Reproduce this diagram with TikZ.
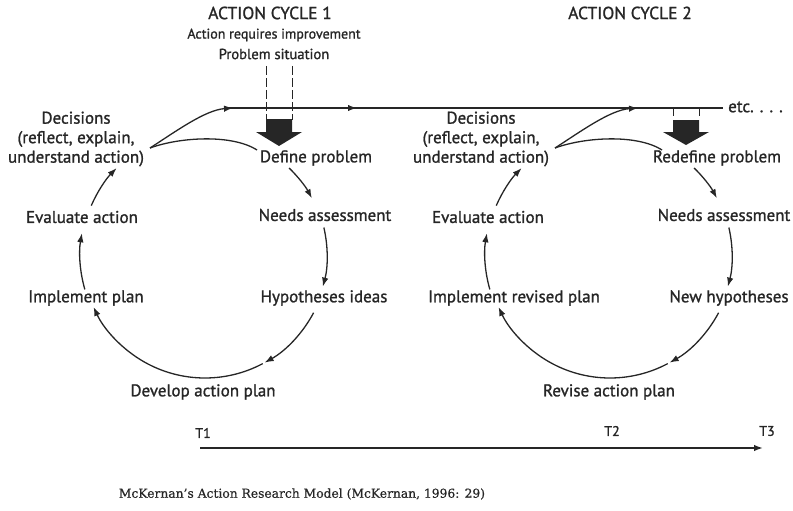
\documentclass[tikz,border=0pt]{standalone}
\usepackage{fontspec}
\setmainfont{PT Sans}
\newfontfamily\lblfont{PT Sans}[FakeBold=1.2]
\newfontfamily\capfont{DejaVu Serif}[FakeBold=0.6]
\usetikzlibrary{arrows.meta,calc}
\definecolor{ink}{HTML}{262626}
\begin{document}
\begin{tikzpicture}[x=1pt,y=1pt,
  lbl/.style={inner sep=0pt,text=ink,font=\lblfont\fontsize{17}{19.5}\selectfont},
  hdr/.style={inner sep=0pt,text=ink,font=\lblfont\fontsize{14}{17}\selectfont},
  ttl/.style={inner sep=0pt,text=ink,font=\lblfont\fontsize{17.5}{19}\selectfont},
  cyc/.style={line width=1.3pt,draw=ink,-{Latex[length=9pt,width=6.5pt]}},
  plain/.style={line width=1.3pt,draw=ink},
  mainline/.style={line width=1.8pt,draw=ink},
  bigarrow/.style={fill=ink,draw=none},
  dashline/.style={line width=1pt,draw=ink,dash pattern=on 9pt off 3pt},
  tick/.style={line width=1pt,draw=ink}]
\useasboundingbox (0,0) rectangle (793,-511);
% header texts
\node[ttl] (cyc1) at (270,-13) {ACTION CYCLE 1};
\node[hdr] (req) at (274,-35) {Action requires improvement};
\node[hdr,font=\lblfont\fontsize{14.6}{17}\selectfont] (sit) at (274,-54) {Problem situation};
\node[ttl] (cyc2) at (630,-13) {ACTION CYCLE 2};
% cycle 1 nodes
\node[lbl,align=center] (dec1) at (76,-139) {Decisions\\(reflect, explain,\\understand action)};
\node[lbl] (def1) at (316,-158) {Define problem};
\node[lbl] (needs1) at (325,-215) {Needs assessment};
\node[lbl] (hyp1) at (324,-298) {Hypotheses ideas};
\node[lbl] (dev1) at (203,-392) {Develop action plan};
\node[lbl] (impl1) at (86,-298) {Implement plan};
\node[lbl] (eval1) at (82,-217) {Evaluate action};
% cycle 2 nodes
\node[lbl,align=center] (dec2) at (481,-139) {Decisions\\(reflect, explain,\\understand action)};
\node[lbl] (def2) at (717,-158) {Redefine problem};
\node[lbl] (needs2) at (724,-215) {Needs assessment};
\node[lbl] (hyp2) at (729,-298) {New hypotheses};
\node[lbl] (dev2) at (609,-392) {Revise action plan};
\node[lbl] (impl2) at (514,-298) {Implement revised plan};
\node[lbl] (eval2) at (488,-217) {Evaluate action};
\node[lbl,anchor=west] (etc) at (728,-107) {etc. . . .};
% timeline labels
\node[hdr] (t1) at (203,-433) {T1};
\node[hdr] (t2) at (612,-431) {T2};
\node[hdr] (t3) at (767,-431) {T3};
\node[inner sep=0pt,text=ink,font=\capfont\fontsize{12.3}{15}\selectfont] (cap) at (302,-494) {McKernan’s Action Research Model (McKernan, 1996: 29)};
% circle centres
\coordinate (c1) at (205,-255);
\coordinate (c2) at (610,-255);
% cycle arcs
\foreach \c in {c1,c2}{
  \draw[cyc] ($(\c)+(46:121pt)$) arc[start angle=46,end angle=28,radius=121pt];
  \draw[cyc] ($(\c)+(13:122pt)$) arc[start angle=13,end angle=-15,radius=122pt];
  \draw[cyc] ($(\c)+(-28:123pt)$) arc[start angle=-28,end angle=-61,radius=123pt];
  \draw[cyc] ($(\c)+(-62:123pt)$) arc[start angle=-62,end angle=-155,radius=123pt];
  \draw[cyc] ($(\c)+(196:125pt)$) arc[start angle=196,end angle=170,radius=125pt];
  \draw[cyc] ($(\c)+(156.5:124pt)$) arc[start angle=156.5,end angle=135.5,radius=124pt];
}
% decisions curves
\coordinate (d1o) at (150,-148);
\coordinate (d2o) at (555,-148);
\coordinate (m0) at (226,-108);
\coordinate (m1) at (357,-108);
\coordinate (m2) at (638,-108);
\coordinate (mend) at (723,-108);
\draw[mainline] (m0) -- (mend);
\draw[cyc,line width=1.8pt] (m0) -- (m1);
\draw[cyc] (d1o) .. controls (175,-132) and (205,-110) .. (233,-108);
\draw[plain] (d1o) .. controls (180,-137) and (232,-134) .. (257,-150);
\draw[cyc] (d2o) .. controls (580,-132) and (610,-110) .. (m2);
\draw[plain] (d2o) .. controls (585,-137) and (637,-134) .. (662,-150);
% problem situation arrow (cycle 1)
\draw[dashline] (266,-66) -- (266,-120);
\draw[dashline] (292,-66) -- (292,-120);
\fill[bigarrow] (266,-119) -- (292,-119) -- (292,-132) -- (302,-132) -- (279,-146) -- (256,-132) -- (266,-132) -- cycle;
% cycle 2 arrow
\draw[tick] (673,-108) -- (673,-116);
\draw[tick] (699,-108) -- (699,-116);
\fill[bigarrow] (673,-120) -- (699,-120) -- (699,-132) -- (709,-132) -- (686,-145) -- (663,-132) -- (673,-132) -- cycle;
% timeline
\coordinate (ts) at (200,-448);
\coordinate (te) at (763,-448);
\draw[cyc,line width=1.6pt] (ts) -- (te);
\end{tikzpicture}
\end{document}
